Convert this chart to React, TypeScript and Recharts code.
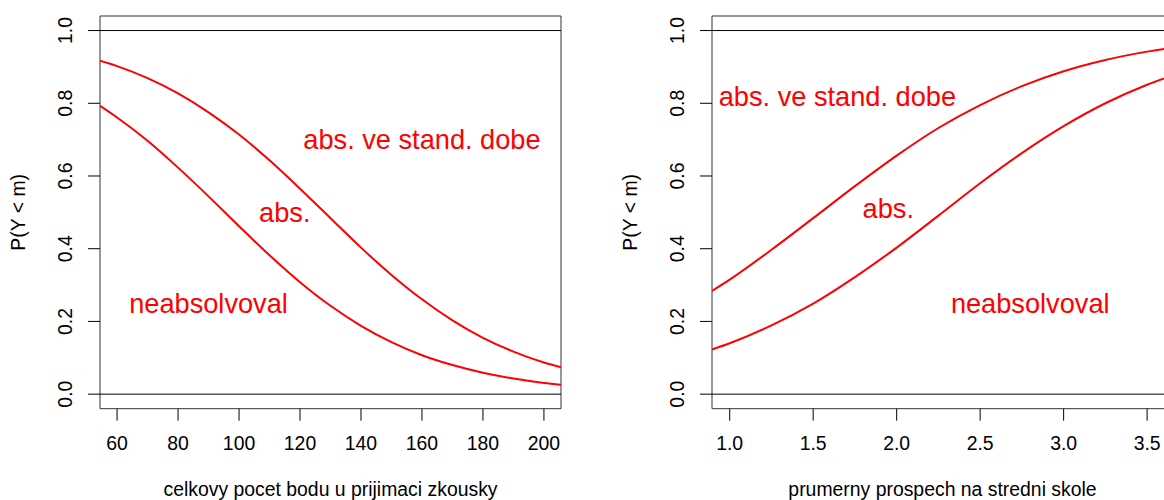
import React from "react";
import {
  LineChart,
  Line,
  XAxis,
  YAxis,
  ReferenceLine,
  ReferenceArea,
  ReferenceDot,
  Label,
} from "recharts";

// left panel: total admission test score
const scoreX = [54.4, 60, 70, 80, 90, 100, 110, 120, 130, 140, 150, 160, 170, 180, 190, 200, 205.6];
const scoreUpper = [0.917, 0.902, 0.869, 0.827, 0.775, 0.714, 0.643, 0.565, 0.484, 0.403, 0.328, 0.261, 0.203, 0.155, 0.117, 0.087, 0.074];
const scoreLower = [0.793, 0.761, 0.697, 0.623, 0.544, 0.462, 0.382, 0.308, 0.243, 0.188, 0.143, 0.107, 0.08, 0.059, 0.043, 0.031, 0.026];
const scoreTicks = [60, 80, 100, 120, 140, 160, 180, 200];
const scoreLabelX = [160, 115, 90];
const scoreLabelY = [0.7, 0.5, 0.25];

// right panel: secondary school grade average
const gpaX = [0.894, 1.0, 1.25, 1.5, 1.75, 2.0, 2.25, 2.5, 2.75, 3.0, 3.25, 3.5, 3.655];
const gpaUpper = [0.284, 0.315, 0.397, 0.484, 0.572, 0.656, 0.732, 0.795, 0.847, 0.888, 0.919, 0.942, 0.953];
const gpaLower = [0.123, 0.14, 0.189, 0.249, 0.322, 0.403, 0.491, 0.58, 0.663, 0.737, 0.8, 0.851, 0.877];
const gpaTicks = [1.0, 1.5, 2.0, 2.5, 3.0, 3.5];
const gpaLabelX = [1.645, 1.95, 2.8];
const gpaLabelY = [0.82, 0.51, 0.25];

const curveLabels = ["abs. ve stand. dobe", "abs.", "neabsolvoval"];
const probTicks = [0, 0.2, 0.4, 0.6, 0.8, 1.0];
const yTitle = "P(Y < m)";

const FONT = "'Liberation Sans', Arial, Helvetica, sans-serif";
const AXIS_SIZE = 19.4;
const RED_SIZE = 27.2;

interface PanelProps {
  xs: number[];
  upper: number[];
  lower: number[];
  xDomain: [number, number];
  xTicks: number[];
  xFormat: (v: number) => string;
  xTitle: string;
  labelX: number[];
  labelY: number[];
  left: number;
}

function Panel({ xs, upper, lower, xDomain, xTicks, xFormat, xTitle, labelX, labelY, left }: PanelProps) {
  const data = xs.map((x, i) => ({ x, upper: upper[i], lower: lower[i] }));

  const xTick = (props: any) => (
    <text
      x={props.x}
      y={450}
      textAnchor="middle"
      fontFamily={FONT}
      fontSize={AXIS_SIZE}
      fill="#000"
    >
      {xFormat(props.payload.value)}
    </text>
  );

  const yTick = (props: any) => {
    const cx = 72.5;
    return (
      <text
        x={cx}
        y={props.y}
        transform={`rotate(-90 ${cx} ${props.y})`}
        textAnchor="middle"
        fontFamily={FONT}
        fontSize={AXIS_SIZE}
        fill="#000"
      >
        {props.payload.value.toFixed(1)}
      </text>
    );
  };

  return (
    <div style={{ position: "absolute", left, top: 0 }}>
      <LineChart
        width={600}
        height={500}
        data={data}
        margin={{ top: 16, right: 39, bottom: 0, left: 40 }}
      >
        <XAxis
          dataKey="x"
          type="number"
          domain={xDomain}
          allowDataOverflow
          ticks={xTicks}
          interval={0}
          height={91.3}
          axisLine={false}
          tickLine={{ stroke: "#000" }}
          tickSize={12}
          tick={xTick}
        >
          <Label
            content={({ viewBox }: any) => (
              <text
                x={viewBox.x + viewBox.width / 2}
                y={496}
                textAnchor="middle"
                fontFamily={FONT}
                fontSize={AXIS_SIZE}
                fill="#000"
              >
                {xTitle}
              </text>
            )}
          />
        </XAxis>
        <YAxis
          type="number"
          domain={[-0.04, 1.04]}
          allowDataOverflow
          ticks={probTicks}
          interval={0}
          width={60}
          axisLine={false}
          tickLine={{ stroke: "#000" }}
          tickSize={12}
          tick={yTick}
        >
          <Label
            content={({ viewBox }: any) => {
              const cx = 25;
              const cy = viewBox.y + viewBox.height / 2;
              return (
                <text
                  x={cx}
                  y={cy}
                  transform={`rotate(-90 ${cx} ${cy})`}
                  textAnchor="middle"
                  fontFamily={FONT}
                  fontSize={AXIS_SIZE}
                  fill="#000"
                >
                  {yTitle}
                </text>
              );
            }}
          />
        </YAxis>
        <ReferenceArea
          x1={xDomain[0]}
          x2={xDomain[1]}
          y1={-0.04}
          y2={1.04}
          fill="none"
          stroke="#333"
          strokeWidth={1}
          ifOverflow="visible"
        />
        <ReferenceLine y={0} stroke="#000" strokeWidth={1} />
        <ReferenceLine y={1} stroke="#000" strokeWidth={1} />
        <Line
          type="monotone"
          dataKey="upper"
          stroke="#ff0000"
          strokeWidth={2}
          dot={false}
          isAnimationActive={false}
        />
        <Line
          type="monotone"
          dataKey="lower"
          stroke="#ff0000"
          strokeWidth={2}
          dot={false}
          isAnimationActive={false}
        />
        {curveLabels.map((txt, i) => (
          <ReferenceDot
            key={txt}
            x={labelX[i]}
            y={labelY[i]}
            r={1}
            ifOverflow="visible"
            shape={(p: any) => (
              <text
                x={p.cx}
                y={p.cy + 9.7}
                textAnchor="middle"
                fontFamily={FONT}
                fontSize={RED_SIZE}
                fill="#ff0000"
              >
                {txt}
              </text>
            )}
          />
        ))}
      </LineChart>
    </div>
  );
}

export default function App() {
  return (
    <div
      style={{
        position: "fixed",
        left: 0,
        top: 0,
        width: 1164,
        height: 500,
        overflow: "hidden",
        background: "#fff",
      }}
    >
      <Panel
        xs={scoreX}
        upper={scoreUpper}
        lower={scoreLower}
        xDomain={[54.4, 205.6]}
        xTicks={scoreTicks}
        xFormat={(v) => String(v)}
        xTitle="celkovy pocet bodu u prijimaci zkousky"
        labelX={scoreLabelX}
        labelY={scoreLabelY}
        left={0}
      />
      <Panel
        xs={gpaX}
        upper={gpaUpper}
        lower={gpaLower}
        xDomain={[0.894, 3.655]}
        xTicks={gpaTicks}
        xFormat={(v) => v.toFixed(1)}
        xTitle="prumerny prospech na stredni skole"
        labelX={gpaLabelX}
        labelY={gpaLabelY}
        left={611.7}
      />
    </div>
  );
}
